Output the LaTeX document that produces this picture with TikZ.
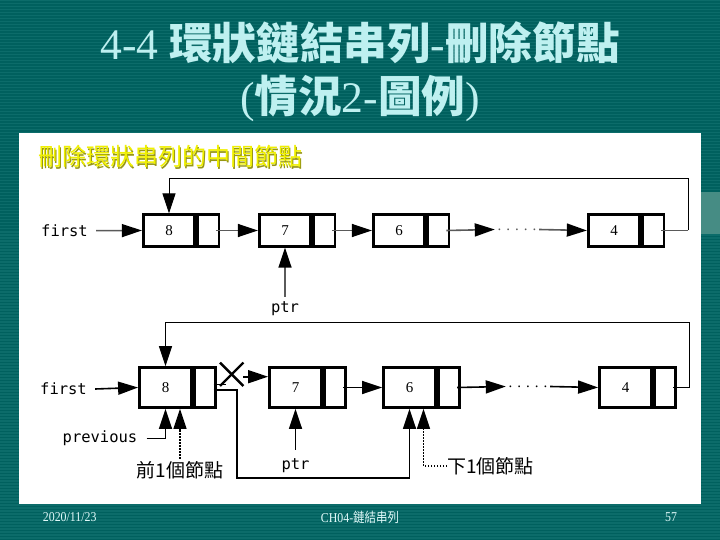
\documentclass[tikz,border=0pt]{standalone}
\usepackage{fontspec}
\setmainfont{Liberation Serif}
\newfontfamily\cjk{Noto Sans CJK TC}
\newfontfamily\monof{DejaVu Sans Mono}
\newfontfamily\condf[FakeStretch=0.88]{Liberation Serif}
\newfontfamily\cjkcond[FakeStretch=0.85]{Noto Sans CJK TC}
\usetikzlibrary{arrows.meta}
\definecolor{teal0}{RGB}{0,96,94}
\definecolor{teal1}{RGB}{12,108,106}
\definecolor{titlec}{RGB}{190,240,240}
\definecolor{subyel}{RGB}{240,240,0}
\definecolor{subsh}{RGB}{150,150,20}
\definecolor{lgray}{RGB}{90,90,90}
\definecolor{footc}{RGB}{225,250,250}
\definecolor{lightband}{RGB}{70,140,132}
\begin{document}
\begin{tikzpicture}[x=1pt,y=-1pt,
  box/.style={draw=black,line width=2.8pt,inner sep=0pt,font=\fontsize{15}{15}\selectfont},
  datT/.style={box,minimum width=51.5pt,minimum height=31.5pt},
  ptrT/.style={box,minimum width=21.5pt,minimum height=31.5pt,anchor=west},
  datB/.style={box,minimum width=52pt,minimum height=40pt},
  ptrB/.style={box,minimum width=21.5pt,minimum height=40pt,anchor=west},
  lbl/.style={inner sep=0pt,font=\monof\fontsize{15.5}{16}\selectfont},
  cjklbl/.style={inner sep=0pt,font=\cjk\fontsize{19}{20}\selectfont},
  dotsbox/.style={inner sep=0pt,minimum width=44pt,font=\fontsize{15}{15}\selectfont},
  bigtip/.style={-{Triangle[length=20pt,width=13pt,color=black]}},
  garrow/.style={bigtip,draw=lgray,line width=1.6pt},
  barrow/.style={bigtip,draw=black,line width=1.6pt},
  thinline/.style={draw=black,line width=1pt},
  dotarrow/.style={bigtip,draw=black,line width=1.3pt,dash pattern=on 1.5pt off 1.5pt},
  footfont/.style={text=footc,inner sep=0pt,font=\condf\fontsize{13.5}{14}\selectfont}
]
\useasboundingbox (0,0) rectangle (720,540);
% background
\fill[teal0] (0,0) rectangle (720,540);
\foreach \yy in {0,3,...,539} \fill[teal1] (0,\yy) rectangle (720,\yy+1.5);
\fill[lightband] (701,192) rectangle (720,234);
\fill[white] (19,133) rectangle (701,504);

% title
\node[text=titlec,inner sep=0pt,font=\fontsize{43.6}{48}\selectfont] (title1) at (360,43)
  {4-4 {\cjk\bfseries 環狀鏈結串列}-{\cjk\bfseries 刪除節點}};
\node[text=titlec,inner sep=0pt,font=\fontsize{43.6}{48}\selectfont] (title2) at (360,98)
  {({\cjk\bfseries 情況}2-{\cjk\bfseries 圖例})};

% subtitle
\node[text=subsh,anchor=west,inner sep=0pt,font=\cjk\fontsize{24}{24}\selectfont] (subshadow) at (39.5,158.2) {刪除環狀串列的中間節點};
\node[text=subyel,anchor=west,inner sep=0pt,font=\cjk\fontsize{24}{24}\selectfont] (sub) at (38,156.7) {刪除環狀串列的中間節點};

% ---------- top list ----------
\node[datT] (t8) at (169,230.5) {8};
\node[ptrT] (t8p) at (t8.east) {};
\node[datT] (t7) at (285,230.5) {7};
\node[ptrT] (t7p) at (t7.east) {};
\node[datT] (t6) at (399,230.5) {6};
\node[ptrT] (t6p) at (t6.east) {};
\node[datT] (t4) at (614,230.5) {4};
\node[ptrT] (t4p) at (t4.east) {};
\node[dotsbox,text=lgray] (tdots) at (517,229.5) {. . . . .};
\node[lbl] (tfirst) at (64.5,230.7) {first};
\node[lbl] (tptr) at (285,309) {ptr};

\draw[garrow] ([xshift=8pt]tfirst.east) -- (t8.west);
\draw[garrow] ([xshift=-4pt]t8p.east) -- (t7.west);
\draw[garrow] ([xshift=-4pt]t7p.east) -- (t6.west);
\draw[garrow] ([xshift=-4pt]t6p.east) -- (tdots.west);
\draw[garrow] (tdots.east) -- (t4.west);
\coordinate (tcr) at (688,230.5);
\coordinate (ttr) at (688,178.3);
\draw[lgray,line width=1.6pt] ([xshift=-4pt]t4p.east) -- (tcr);
\draw[thinline,bigtip] (tcr) -- (ttr) -| (t8.north);
\draw[garrow] ([yshift=5pt]tptr.north) -- (t7.south);

% ---------- bottom list ----------
\node[datB] (b8) at (165.5,387.5) {8};
\node[ptrB] (b8p) at (b8.east) {};
\node[datB] (b7) at (295.5,387.5) {7};
\node[ptrB] (b7p) at (b7.east) {};
\node[datB] (b6) at (409.5,387.5) {6};
\node[ptrB] (b6p) at (b6.east) {};
\node[datB] (b4) at (625.5,387.5) {4};
\node[ptrB] (b4p) at (b4.east) {};
\node[dotsbox] (bdots) at (528,386.5) {. . . . .};
\node[lbl] (bfirst) at (63.5,389) {first};
\node[lbl] (bptr) at (295.5,466) {ptr};
\node[lbl] (prev) at (100,438.3) {previous};
\node[cjklbl] (qian) at (180,470) {前1個節點};
\node[cjklbl,anchor=west] (xia) at (447,466) {下1個節點};

\draw[barrow] ([xshift=8pt]bfirst.east) -- (b8.west);
% old link, crossed out
\coordinate (xc) at (231.7,374.3);
\draw[black,line width=1.6pt] ([xshift=-3.5pt,yshift=3.2pt]b8p.east) -- ([xshift=8.5pt,yshift=3.2pt]b8p.east);
\draw[black,line width=2.4pt] ([shift={(-11.7,-11.7)}]xc) -- ([shift={(11.7,11.7)}]xc);
\draw[black,line width=2.4pt] ([shift={(11.7,-11.7)}]xc) -- ([shift={(-11.7,11.7)}]xc);
\coordinate (xa) at (243.3,376.7);
\draw[barrow] (xa) -- (xa -| b7.west);
% new link
\coordinate (c1) at (236.7,477.7);
\draw[barrow] ([xshift=-3.5pt,yshift=-2.5pt]b8p.east) -| (c1) -| (b6.south);

\draw[barrow] ([xshift=-4pt]b7p.east) -- (b6.west);
\draw[barrow] ([xshift=-4pt]b6p.east) -- (bdots.west);
\draw[barrow] (bdots.east) -- (b4.west);
\coordinate (bcr) at (689,387.5);
\coordinate (btr) at (689,322.3);
\draw[black,line width=1.6pt] ([xshift=-4pt]b4p.east) -- (bcr);
\draw[thinline,bigtip] (bcr) -- (btr) -| (b8.north);

\draw[barrow] ([yshift=9pt]bptr.north) -- (b7.south);
\draw[barrow] ([xshift=9pt]prev.east) -| (b8.south);
\draw[dotarrow] ([yshift=2pt]qian.north) -- (qian.north |- b8.south);
\draw[dotarrow] (xia.west) -| ([xshift=14pt]b6.south);

% footer
\node[footfont,anchor=west] (date) at (42.7,517.3) {2020/11/23};
\node[footfont] (chap) at (360,517.3) {CH04-{\cjkcond 鏈結串列}};
\node[footfont,anchor=west] (page) at (665,517.3) {57};
\end{tikzpicture}
\end{document}
